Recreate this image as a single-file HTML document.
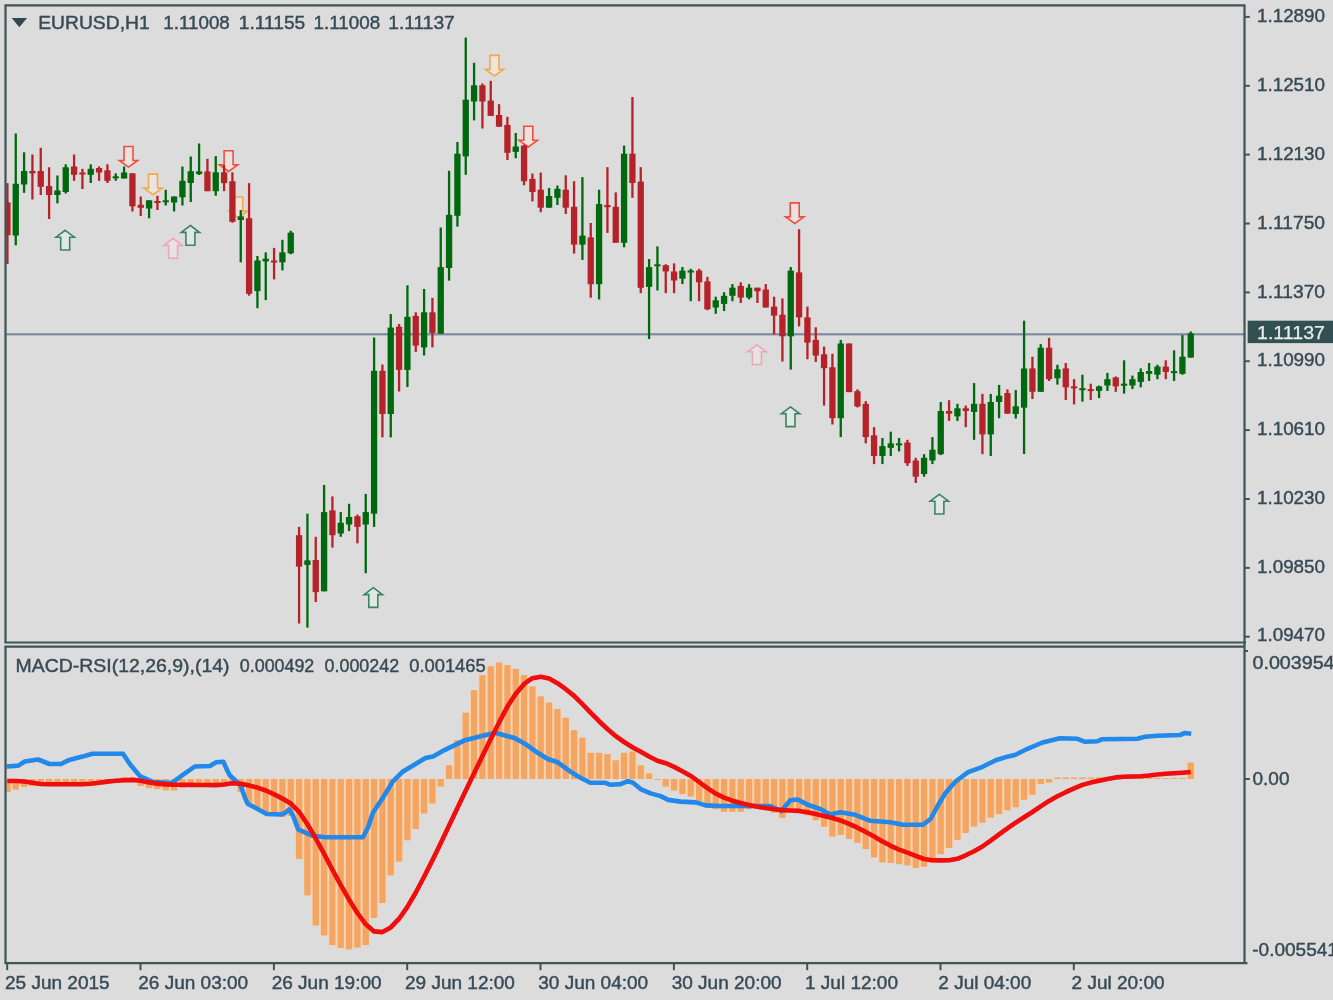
<!DOCTYPE html>
<html lang="en"><head><meta charset="utf-8"><title>EURUSD,H1</title>
<style>html,body{margin:0;padding:0;background:#dcdcdc;}body{width:1333px;height:1000px;overflow:hidden;}svg{display:block;}text{font-family:"Liberation Sans",sans-serif;font-size:19px;fill:#384b55;stroke:#384b55;stroke-width:0.45px;}</style>
</head><body>
<svg width="1333" height="1000" viewBox="0 0 1333 1000">
<defs><filter id="b" x="-2%" y="-2%" width="104%" height="104%"><feGaussianBlur stdDeviation="0.6"/></filter><clipPath id="c"><rect x="5.5" y="5" width="1239" height="958"/></clipPath></defs>
<rect width="1333" height="1000" fill="#dcdcdc"/>
<g filter="url(#b)">
<rect x="5.5" y="333.2" width="1240" height="2.2" fill="#7f8aa0"/>
<g id="arrows" stroke-width="1.6" stroke-linejoin="miter" fill-opacity="0.5">
<path d="M65.2 230.3 L74.4 237.2 L69.7 237.2 L69.7 250.0 L60.7 250.0 L60.7 237.2 L56.0 237.2 Z" fill="#e4f4ea" stroke="#3c8263"/>
<path d="M124.0 146.5 L133.0 146.5 L133.0 160.5 L137.7 160.5 L128.5 167.1 L119.3 160.5 L124.0 160.5 Z" fill="#fbe6e4" stroke="#ee503e"/>
<path d="M148.5 174.1 L157.5 174.1 L157.5 188.1 L162.2 188.1 L153.0 194.7 L143.8 188.1 L148.5 188.1 Z" fill="#faeedd" stroke="#f3a84e"/>
<path d="M173.1 238.5 L182.3 245.4 L177.6 245.4 L177.6 258.2 L168.6 258.2 L168.6 245.4 L163.9 245.4 Z" fill="#f6e8ec" stroke="#eba8ba"/>
<path d="M190.4 225.5 L199.6 232.4 L194.9 232.4 L194.9 245.2 L185.9 245.2 L185.9 232.4 L181.2 232.4 Z" fill="#e4f4ea" stroke="#3c8263"/>
<path d="M224.1 150.8 L233.1 150.8 L233.1 164.8 L237.8 164.8 L228.6 171.4 L219.4 164.8 L224.1 164.8 Z" fill="#fbe6e4" stroke="#ee503e"/>
<path d="M233.7 197.0 L242.7 197.0 L242.7 211.0 L247.4 211.0 L238.2 217.6 L229.0 211.0 L233.7 211.0 Z" fill="#faeedd" stroke="#f3a84e"/>
<path d="M373.3 587.7 L382.5 594.6 L377.8 594.6 L377.8 607.4 L368.8 607.4 L368.8 594.6 L364.1 594.6 Z" fill="#e4f4ea" stroke="#3c8263"/>
<path d="M490.0 55.4 L499.0 55.4 L499.0 69.4 L503.7 69.4 L494.5 76.0 L485.3 69.4 L490.0 69.4 Z" fill="#faeedd" stroke="#f3a84e"/>
<path d="M523.8 126.3 L532.8 126.3 L532.8 140.3 L537.5 140.3 L528.3 146.9 L519.1 140.3 L523.8 140.3 Z" fill="#fbe6e4" stroke="#ee503e"/>
<path d="M790.2 202.9 L799.2 202.9 L799.2 216.9 L804.0 216.9 L794.8 223.5 L785.5 216.9 L790.2 216.9 Z" fill="#fbe6e4" stroke="#ee503e"/>
<path d="M756.9 344.8 L766.1 351.7 L761.4 351.7 L761.4 364.5 L752.4 364.5 L752.4 351.7 L747.7 351.7 Z" fill="#f6e8ec" stroke="#eba8ba"/>
<path d="M790.5 406.9 L799.7 413.8 L795.0 413.8 L795.0 426.6 L786.0 426.6 L786.0 413.8 L781.3 413.8 Z" fill="#e4f4ea" stroke="#3c8263"/>
<path d="M939.4 494.3 L948.6 501.2 L943.9 501.2 L943.9 514.0 L934.9 514.0 L934.9 501.2 L930.2 501.2 Z" fill="#e4f4ea" stroke="#3c8263"/>
</g>
<g id="candles" clip-path="url(#c)">
<rect x="6.27" y="183.2" width="2.3" height="80.8" fill="#b62229"/>
<rect x="4.27" y="202.4" width="6.3" height="32.8" fill="#b62229"/>
<rect x="14.60" y="133.5" width="2.3" height="111.8" fill="#05680f"/>
<rect x="12.60" y="183.8" width="6.3" height="51.7" fill="#05680f"/>
<rect x="22.94" y="152.3" width="2.3" height="40.5" fill="#05680f"/>
<rect x="20.94" y="171.0" width="6.3" height="13.5" fill="#05680f"/>
<rect x="31.27" y="154.5" width="2.3" height="45.0" fill="#b62229"/>
<rect x="29.27" y="171.0" width="6.3" height="2.3" fill="#b62229"/>
<rect x="39.60" y="147.8" width="2.3" height="47.2" fill="#b62229"/>
<rect x="37.60" y="171.0" width="6.3" height="15.8" fill="#b62229"/>
<rect x="47.94" y="167.3" width="2.3" height="51.7" fill="#b62229"/>
<rect x="45.94" y="186.0" width="6.3" height="9.0" fill="#b62229"/>
<rect x="56.27" y="175.5" width="2.3" height="27.8" fill="#05680f"/>
<rect x="54.27" y="190.5" width="6.3" height="4.5" fill="#05680f"/>
<rect x="64.60" y="164.3" width="2.3" height="29.2" fill="#05680f"/>
<rect x="62.60" y="167.3" width="6.3" height="24.7" fill="#05680f"/>
<rect x="72.94" y="154.5" width="2.3" height="26.3" fill="#b62229"/>
<rect x="70.94" y="166.5" width="6.3" height="8.3" fill="#b62229"/>
<rect x="81.27" y="168.8" width="2.3" height="20.2" fill="#b62229"/>
<rect x="79.27" y="172.5" width="6.3" height="2.0" fill="#b62229"/>
<rect x="89.60" y="164.3" width="2.3" height="18.7" fill="#05680f"/>
<rect x="87.60" y="168.8" width="6.3" height="6.0" fill="#05680f"/>
<rect x="97.94" y="166.5" width="2.3" height="14.3" fill="#b62229"/>
<rect x="95.94" y="168.0" width="6.3" height="4.5" fill="#b62229"/>
<rect x="106.27" y="164.3" width="2.3" height="18.7" fill="#b62229"/>
<rect x="104.27" y="170.3" width="6.3" height="10.5" fill="#b62229"/>
<rect x="114.60" y="173.3" width="2.3" height="7.5" fill="#05680f"/>
<rect x="112.60" y="176.3" width="6.3" height="2.0" fill="#05680f"/>
<rect x="122.94" y="166.5" width="2.3" height="12.0" fill="#05680f"/>
<rect x="120.94" y="172.5" width="6.3" height="6.0" fill="#05680f"/>
<rect x="131.27" y="173.3" width="2.3" height="38.2" fill="#b62229"/>
<rect x="129.27" y="173.3" width="6.3" height="33.0" fill="#b62229"/>
<rect x="139.60" y="196.5" width="2.3" height="19.5" fill="#b62229"/>
<rect x="137.60" y="204.8" width="6.3" height="3.0" fill="#b62229"/>
<rect x="147.94" y="200.3" width="2.3" height="18.0" fill="#05680f"/>
<rect x="145.94" y="200.3" width="6.3" height="8.2" fill="#05680f"/>
<rect x="156.27" y="195.8" width="2.3" height="14.2" fill="#b62229"/>
<rect x="154.27" y="201.0" width="6.3" height="2.0" fill="#b62229"/>
<rect x="164.60" y="189.8" width="2.3" height="15.7" fill="#05680f"/>
<rect x="162.60" y="200.3" width="6.3" height="2.0" fill="#05680f"/>
<rect x="172.94" y="196.5" width="2.3" height="15.0" fill="#05680f"/>
<rect x="170.94" y="196.5" width="6.3" height="6.0" fill="#05680f"/>
<rect x="181.27" y="166.5" width="2.3" height="39.0" fill="#05680f"/>
<rect x="179.27" y="180.8" width="6.3" height="16.5" fill="#05680f"/>
<rect x="189.60" y="156.5" width="2.3" height="45.5" fill="#05680f"/>
<rect x="187.60" y="171.2" width="6.3" height="11.8" fill="#05680f"/>
<rect x="197.94" y="143.5" width="2.3" height="31.5" fill="#05680f"/>
<rect x="195.94" y="171.4" width="6.3" height="2.7" fill="#05680f"/>
<rect x="206.27" y="158.8" width="2.3" height="32.4" fill="#b62229"/>
<rect x="204.27" y="171.4" width="6.3" height="19.8" fill="#b62229"/>
<rect x="214.60" y="156.1" width="2.3" height="39.6" fill="#05680f"/>
<rect x="212.60" y="172.3" width="6.3" height="18.9" fill="#05680f"/>
<rect x="222.94" y="165.1" width="2.3" height="26.1" fill="#b62229"/>
<rect x="220.94" y="172.3" width="6.3" height="10.8" fill="#b62229"/>
<rect x="231.27" y="172.3" width="2.3" height="50.4" fill="#b62229"/>
<rect x="229.27" y="181.3" width="6.3" height="40.5" fill="#b62229"/>
<rect x="239.60" y="210.1" width="2.3" height="52.2" fill="#05680f"/>
<rect x="237.60" y="216.4" width="6.3" height="3.6" fill="#05680f"/>
<rect x="247.94" y="183.1" width="2.3" height="112.5" fill="#b62229"/>
<rect x="245.94" y="218.2" width="6.3" height="75.6" fill="#b62229"/>
<rect x="256.27" y="256.0" width="2.3" height="52.2" fill="#05680f"/>
<rect x="254.27" y="260.5" width="6.3" height="30.6" fill="#05680f"/>
<rect x="264.60" y="252.4" width="2.3" height="47.7" fill="#05680f"/>
<rect x="262.60" y="258.7" width="6.3" height="2.7" fill="#05680f"/>
<rect x="272.94" y="247.9" width="2.3" height="31.5" fill="#b62229"/>
<rect x="270.94" y="260.5" width="6.3" height="2.0" fill="#b62229"/>
<rect x="281.27" y="239.8" width="2.3" height="30.6" fill="#05680f"/>
<rect x="279.27" y="252.4" width="6.3" height="9.9" fill="#05680f"/>
<rect x="289.60" y="230.8" width="2.3" height="23.4" fill="#05680f"/>
<rect x="287.60" y="232.6" width="6.3" height="20.7" fill="#05680f"/>
<rect x="297.94" y="526.9" width="2.3" height="96.6" fill="#b62229"/>
<rect x="295.94" y="535.2" width="6.3" height="31.4" fill="#b62229"/>
<rect x="306.27" y="513.7" width="2.3" height="113.9" fill="#05680f"/>
<rect x="304.27" y="560.4" width="6.3" height="4.5" fill="#05680f"/>
<rect x="314.60" y="536.8" width="2.3" height="65.2" fill="#b62229"/>
<rect x="312.60" y="560.0" width="6.3" height="32.1" fill="#b62229"/>
<rect x="322.94" y="484.9" width="2.3" height="106.4" fill="#05680f"/>
<rect x="320.94" y="512.1" width="6.3" height="79.2" fill="#05680f"/>
<rect x="331.27" y="496.4" width="2.3" height="51.2" fill="#b62229"/>
<rect x="329.27" y="510.4" width="6.3" height="24.8" fill="#b62229"/>
<rect x="339.60" y="512.1" width="2.3" height="24.7" fill="#05680f"/>
<rect x="337.60" y="522.8" width="6.3" height="10.7" fill="#05680f"/>
<rect x="347.94" y="503.8" width="2.3" height="27.3" fill="#05680f"/>
<rect x="345.94" y="517.0" width="6.3" height="7.5" fill="#05680f"/>
<rect x="356.27" y="514.6" width="2.3" height="28.8" fill="#b62229"/>
<rect x="354.27" y="516.2" width="6.3" height="10.7" fill="#b62229"/>
<rect x="364.60" y="493.9" width="2.3" height="79.3" fill="#05680f"/>
<rect x="362.60" y="512.1" width="6.3" height="12.4" fill="#05680f"/>
<rect x="372.94" y="337.5" width="2.3" height="189.4" fill="#05680f"/>
<rect x="370.94" y="370.8" width="6.3" height="142.9" fill="#05680f"/>
<rect x="381.27" y="364.5" width="2.3" height="72.9" fill="#b62229"/>
<rect x="379.27" y="370.8" width="6.3" height="43.2" fill="#b62229"/>
<rect x="389.60" y="314.1" width="2.3" height="123.3" fill="#05680f"/>
<rect x="387.60" y="327.6" width="6.3" height="86.4" fill="#05680f"/>
<rect x="397.94" y="324.0" width="2.3" height="67.5" fill="#b62229"/>
<rect x="395.94" y="326.7" width="6.3" height="43.2" fill="#b62229"/>
<rect x="406.27" y="285.3" width="2.3" height="101.7" fill="#05680f"/>
<rect x="404.27" y="316.8" width="6.3" height="53.1" fill="#05680f"/>
<rect x="414.60" y="312.3" width="2.3" height="39.6" fill="#b62229"/>
<rect x="412.60" y="315.9" width="6.3" height="29.7" fill="#b62229"/>
<rect x="422.94" y="288.9" width="2.3" height="66.6" fill="#05680f"/>
<rect x="420.94" y="312.3" width="6.3" height="35.1" fill="#05680f"/>
<rect x="431.27" y="297.9" width="2.3" height="49.5" fill="#b62229"/>
<rect x="429.27" y="312.3" width="6.3" height="20.7" fill="#b62229"/>
<rect x="439.60" y="227.5" width="2.3" height="106.2" fill="#05680f"/>
<rect x="437.60" y="267.1" width="6.3" height="66.6" fill="#05680f"/>
<rect x="447.93" y="170.8" width="2.3" height="109.8" fill="#05680f"/>
<rect x="445.93" y="214.9" width="6.3" height="53.1" fill="#05680f"/>
<rect x="456.27" y="142.0" width="2.3" height="84.6" fill="#05680f"/>
<rect x="454.27" y="153.7" width="6.3" height="62.1" fill="#05680f"/>
<rect x="464.60" y="37.6" width="2.3" height="137.2" fill="#05680f"/>
<rect x="462.60" y="99.7" width="6.3" height="56.7" fill="#05680f"/>
<rect x="472.93" y="62.8" width="2.3" height="57.6" fill="#05680f"/>
<rect x="470.93" y="85.3" width="6.3" height="16.2" fill="#05680f"/>
<rect x="481.27" y="83.5" width="2.3" height="45.0" fill="#b62229"/>
<rect x="479.27" y="85.3" width="6.3" height="16.2" fill="#b62229"/>
<rect x="489.60" y="80.8" width="2.3" height="35.1" fill="#b62229"/>
<rect x="487.60" y="100.6" width="6.3" height="15.3" fill="#b62229"/>
<rect x="497.93" y="104.2" width="2.3" height="22.5" fill="#b62229"/>
<rect x="495.93" y="115.0" width="6.3" height="11.7" fill="#b62229"/>
<rect x="506.27" y="116.8" width="2.3" height="43.2" fill="#b62229"/>
<rect x="504.27" y="124.9" width="6.3" height="27.9" fill="#b62229"/>
<rect x="514.60" y="133.0" width="2.3" height="25.2" fill="#05680f"/>
<rect x="512.60" y="146.5" width="6.3" height="5.4" fill="#05680f"/>
<rect x="522.93" y="144.7" width="2.3" height="40.5" fill="#b62229"/>
<rect x="520.93" y="145.6" width="6.3" height="35.6" fill="#b62229"/>
<rect x="531.27" y="173.5" width="2.3" height="27.9" fill="#b62229"/>
<rect x="529.27" y="178.9" width="6.3" height="13.1" fill="#b62229"/>
<rect x="539.60" y="172.6" width="2.3" height="39.6" fill="#b62229"/>
<rect x="537.60" y="189.7" width="6.3" height="18.0" fill="#b62229"/>
<rect x="547.93" y="187.9" width="2.3" height="19.8" fill="#05680f"/>
<rect x="545.93" y="196.0" width="6.3" height="11.7" fill="#05680f"/>
<rect x="556.27" y="185.6" width="2.3" height="19.4" fill="#05680f"/>
<rect x="554.27" y="188.8" width="6.3" height="9.0" fill="#05680f"/>
<rect x="564.60" y="175.3" width="2.3" height="38.7" fill="#b62229"/>
<rect x="562.60" y="189.7" width="6.3" height="18.0" fill="#b62229"/>
<rect x="572.93" y="181.2" width="2.3" height="72.4" fill="#b62229"/>
<rect x="570.93" y="206.8" width="6.3" height="37.8" fill="#b62229"/>
<rect x="581.27" y="177.1" width="2.3" height="82.8" fill="#05680f"/>
<rect x="579.27" y="235.6" width="6.3" height="9.0" fill="#05680f"/>
<rect x="589.60" y="223.0" width="2.3" height="74.7" fill="#b62229"/>
<rect x="587.60" y="237.4" width="6.3" height="46.8" fill="#b62229"/>
<rect x="597.93" y="189.7" width="2.3" height="109.8" fill="#05680f"/>
<rect x="595.93" y="204.1" width="6.3" height="80.1" fill="#05680f"/>
<rect x="606.27" y="167.2" width="2.3" height="65.7" fill="#b62229"/>
<rect x="604.27" y="205.0" width="6.3" height="2.2" fill="#b62229"/>
<rect x="614.60" y="192.4" width="2.3" height="50.4" fill="#b62229"/>
<rect x="612.60" y="206.8" width="6.3" height="36.0" fill="#b62229"/>
<rect x="622.93" y="145.6" width="2.3" height="101.7" fill="#05680f"/>
<rect x="620.93" y="153.7" width="6.3" height="89.1" fill="#05680f"/>
<rect x="631.27" y="97.0" width="2.3" height="100.8" fill="#b62229"/>
<rect x="629.27" y="153.7" width="6.3" height="29.3" fill="#b62229"/>
<rect x="639.60" y="167.2" width="2.3" height="126.0" fill="#b62229"/>
<rect x="637.60" y="181.6" width="6.3" height="106.2" fill="#b62229"/>
<rect x="647.93" y="259.0" width="2.3" height="80.0" fill="#05680f"/>
<rect x="645.93" y="267.1" width="6.3" height="19.8" fill="#05680f"/>
<rect x="656.27" y="246.4" width="2.3" height="44.1" fill="#05680f"/>
<rect x="654.27" y="264.3" width="6.3" height="2.0" fill="#05680f"/>
<rect x="664.60" y="264.3" width="2.3" height="28.8" fill="#b62229"/>
<rect x="662.60" y="265.2" width="6.3" height="6.3" fill="#b62229"/>
<rect x="672.93" y="263.4" width="2.3" height="29.7" fill="#b62229"/>
<rect x="670.93" y="271.5" width="6.3" height="9.0" fill="#b62229"/>
<rect x="681.27" y="267.0" width="2.3" height="17.1" fill="#05680f"/>
<rect x="679.27" y="270.6" width="6.3" height="8.1" fill="#05680f"/>
<rect x="689.60" y="268.8" width="2.3" height="32.4" fill="#05680f"/>
<rect x="687.60" y="270.5" width="6.3" height="2.0" fill="#05680f"/>
<rect x="697.93" y="268.8" width="2.3" height="32.4" fill="#b62229"/>
<rect x="695.93" y="270.6" width="6.3" height="11.7" fill="#b62229"/>
<rect x="706.27" y="276.9" width="2.3" height="33.3" fill="#b62229"/>
<rect x="704.27" y="281.4" width="6.3" height="27.9" fill="#b62229"/>
<rect x="714.60" y="296.7" width="2.3" height="17.1" fill="#05680f"/>
<rect x="712.60" y="300.3" width="6.3" height="7.2" fill="#05680f"/>
<rect x="722.93" y="292.2" width="2.3" height="18.9" fill="#05680f"/>
<rect x="720.93" y="295.8" width="6.3" height="8.1" fill="#05680f"/>
<rect x="731.27" y="284.1" width="2.3" height="17.1" fill="#05680f"/>
<rect x="729.27" y="287.7" width="6.3" height="8.1" fill="#05680f"/>
<rect x="739.60" y="282.3" width="2.3" height="20.7" fill="#b62229"/>
<rect x="737.60" y="285.9" width="6.3" height="11.7" fill="#b62229"/>
<rect x="747.93" y="284.1" width="2.3" height="15.3" fill="#05680f"/>
<rect x="745.93" y="287.7" width="6.3" height="9.9" fill="#05680f"/>
<rect x="756.27" y="287.7" width="2.3" height="15.3" fill="#b62229"/>
<rect x="754.27" y="287.7" width="6.3" height="3.6" fill="#b62229"/>
<rect x="764.60" y="284.1" width="2.3" height="23.4" fill="#b62229"/>
<rect x="762.60" y="289.5" width="6.3" height="18.0" fill="#b62229"/>
<rect x="772.93" y="296.7" width="2.3" height="37.8" fill="#b62229"/>
<rect x="770.93" y="306.6" width="6.3" height="9.0" fill="#b62229"/>
<rect x="781.27" y="298.5" width="2.3" height="63.0" fill="#b62229"/>
<rect x="779.27" y="314.7" width="6.3" height="21.6" fill="#b62229"/>
<rect x="789.60" y="267.0" width="2.3" height="102.6" fill="#05680f"/>
<rect x="787.60" y="270.6" width="6.3" height="65.7" fill="#05680f"/>
<rect x="797.93" y="229.2" width="2.3" height="97.2" fill="#b62229"/>
<rect x="795.93" y="272.4" width="6.3" height="45.0" fill="#b62229"/>
<rect x="806.27" y="306.6" width="2.3" height="52.7" fill="#b62229"/>
<rect x="804.27" y="317.4" width="6.3" height="25.2" fill="#b62229"/>
<rect x="814.60" y="327.3" width="2.3" height="34.7" fill="#b62229"/>
<rect x="812.60" y="339.9" width="6.3" height="15.7" fill="#b62229"/>
<rect x="822.93" y="346.6" width="2.3" height="59.0" fill="#b62229"/>
<rect x="820.93" y="354.3" width="6.3" height="13.9" fill="#b62229"/>
<rect x="831.27" y="353.8" width="2.3" height="70.7" fill="#b62229"/>
<rect x="829.27" y="367.3" width="6.3" height="50.9" fill="#b62229"/>
<rect x="839.60" y="339.9" width="2.3" height="97.2" fill="#05680f"/>
<rect x="837.60" y="343.5" width="6.3" height="74.7" fill="#05680f"/>
<rect x="847.93" y="343.5" width="2.3" height="48.6" fill="#b62229"/>
<rect x="845.93" y="343.5" width="6.3" height="48.6" fill="#b62229"/>
<rect x="856.27" y="389.4" width="2.3" height="18.0" fill="#b62229"/>
<rect x="854.27" y="391.2" width="6.3" height="15.3" fill="#b62229"/>
<rect x="864.60" y="401.1" width="2.3" height="42.3" fill="#b62229"/>
<rect x="862.60" y="403.8" width="6.3" height="33.3" fill="#b62229"/>
<rect x="872.93" y="427.2" width="2.3" height="36.9" fill="#b62229"/>
<rect x="870.93" y="435.3" width="6.3" height="20.7" fill="#b62229"/>
<rect x="881.27" y="438.0" width="2.3" height="26.1" fill="#05680f"/>
<rect x="879.27" y="446.1" width="6.3" height="9.9" fill="#05680f"/>
<rect x="889.60" y="431.7" width="2.3" height="24.3" fill="#05680f"/>
<rect x="887.60" y="443.4" width="6.3" height="4.5" fill="#05680f"/>
<rect x="897.93" y="438.0" width="2.3" height="13.5" fill="#05680f"/>
<rect x="895.93" y="443.4" width="6.3" height="2.0" fill="#05680f"/>
<rect x="906.27" y="439.8" width="2.3" height="26.1" fill="#b62229"/>
<rect x="904.27" y="442.5" width="6.3" height="20.7" fill="#b62229"/>
<rect x="914.60" y="457.8" width="2.3" height="25.2" fill="#b62229"/>
<rect x="912.60" y="460.5" width="6.3" height="16.2" fill="#b62229"/>
<rect x="922.93" y="454.2" width="2.3" height="22.5" fill="#05680f"/>
<rect x="920.93" y="457.8" width="6.3" height="16.2" fill="#05680f"/>
<rect x="931.27" y="437.1" width="2.3" height="27.0" fill="#05680f"/>
<rect x="929.27" y="449.7" width="6.3" height="10.8" fill="#05680f"/>
<rect x="939.60" y="402.0" width="2.3" height="53.1" fill="#05680f"/>
<rect x="937.60" y="411.0" width="6.3" height="43.2" fill="#05680f"/>
<rect x="947.93" y="400.2" width="2.3" height="20.7" fill="#b62229"/>
<rect x="945.93" y="411.0" width="6.3" height="2.7" fill="#b62229"/>
<rect x="956.27" y="403.8" width="2.3" height="17.1" fill="#05680f"/>
<rect x="954.27" y="408.3" width="6.3" height="8.1" fill="#05680f"/>
<rect x="964.60" y="405.6" width="2.3" height="21.6" fill="#b62229"/>
<rect x="962.60" y="408.3" width="6.3" height="2.7" fill="#b62229"/>
<rect x="972.93" y="383.1" width="2.3" height="56.7" fill="#05680f"/>
<rect x="970.93" y="403.8" width="6.3" height="8.1" fill="#05680f"/>
<rect x="981.27" y="393.9" width="2.3" height="60.3" fill="#b62229"/>
<rect x="979.27" y="403.8" width="6.3" height="30.6" fill="#b62229"/>
<rect x="989.60" y="393.9" width="2.3" height="62.1" fill="#05680f"/>
<rect x="987.60" y="402.0" width="6.3" height="32.4" fill="#05680f"/>
<rect x="997.93" y="384.9" width="2.3" height="33.3" fill="#05680f"/>
<rect x="995.93" y="395.7" width="6.3" height="6.3" fill="#05680f"/>
<rect x="1006.27" y="389.4" width="2.3" height="24.3" fill="#b62229"/>
<rect x="1004.27" y="393.0" width="6.3" height="20.7" fill="#b62229"/>
<rect x="1014.60" y="390.0" width="2.3" height="28.5" fill="#05680f"/>
<rect x="1012.60" y="406.3" width="6.3" height="7.7" fill="#05680f"/>
<rect x="1022.93" y="320.7" width="2.3" height="133.3" fill="#05680f"/>
<rect x="1020.93" y="368.5" width="6.3" height="39.2" fill="#05680f"/>
<rect x="1031.27" y="356.7" width="2.3" height="42.3" fill="#b62229"/>
<rect x="1029.27" y="368.4" width="6.3" height="23.4" fill="#b62229"/>
<rect x="1039.60" y="344.1" width="2.3" height="47.7" fill="#05680f"/>
<rect x="1037.60" y="347.7" width="6.3" height="44.1" fill="#05680f"/>
<rect x="1047.93" y="337.8" width="2.3" height="43.2" fill="#b62229"/>
<rect x="1045.93" y="347.7" width="6.3" height="31.5" fill="#b62229"/>
<rect x="1056.27" y="364.8" width="2.3" height="19.8" fill="#05680f"/>
<rect x="1054.27" y="369.3" width="6.3" height="9.0" fill="#05680f"/>
<rect x="1064.60" y="363.0" width="2.3" height="36.9" fill="#b62229"/>
<rect x="1062.60" y="368.4" width="6.3" height="18.9" fill="#b62229"/>
<rect x="1072.93" y="379.2" width="2.3" height="25.2" fill="#b62229"/>
<rect x="1070.93" y="386.4" width="6.3" height="2.0" fill="#b62229"/>
<rect x="1081.27" y="374.7" width="2.3" height="27.0" fill="#05680f"/>
<rect x="1079.27" y="388.2" width="6.3" height="2.0" fill="#05680f"/>
<rect x="1089.60" y="383.7" width="2.3" height="16.2" fill="#b62229"/>
<rect x="1087.60" y="389.1" width="6.3" height="2.0" fill="#b62229"/>
<rect x="1097.93" y="385.5" width="2.3" height="12.6" fill="#05680f"/>
<rect x="1095.93" y="386.4" width="6.3" height="4.5" fill="#05680f"/>
<rect x="1106.27" y="372.9" width="2.3" height="18.0" fill="#05680f"/>
<rect x="1104.27" y="379.2" width="6.3" height="6.3" fill="#05680f"/>
<rect x="1114.60" y="376.5" width="2.3" height="15.3" fill="#b62229"/>
<rect x="1112.60" y="377.4" width="6.3" height="9.0" fill="#b62229"/>
<rect x="1122.93" y="360.3" width="2.3" height="33.3" fill="#05680f"/>
<rect x="1120.93" y="383.7" width="6.3" height="2.0" fill="#05680f"/>
<rect x="1131.27" y="375.6" width="2.3" height="13.5" fill="#05680f"/>
<rect x="1129.27" y="379.2" width="6.3" height="6.3" fill="#05680f"/>
<rect x="1139.60" y="368.4" width="2.3" height="18.9" fill="#05680f"/>
<rect x="1137.60" y="372.0" width="6.3" height="9.9" fill="#05680f"/>
<rect x="1147.93" y="363.0" width="2.3" height="18.0" fill="#05680f"/>
<rect x="1145.93" y="371.1" width="6.3" height="2.7" fill="#05680f"/>
<rect x="1156.27" y="364.8" width="2.3" height="14.4" fill="#05680f"/>
<rect x="1154.27" y="366.6" width="6.3" height="8.1" fill="#05680f"/>
<rect x="1164.60" y="360.3" width="2.3" height="18.9" fill="#b62229"/>
<rect x="1162.60" y="366.6" width="6.3" height="5.4" fill="#b62229"/>
<rect x="1172.93" y="350.4" width="2.3" height="30.6" fill="#05680f"/>
<rect x="1170.93" y="371.1" width="6.3" height="2.0" fill="#05680f"/>
<rect x="1181.27" y="335.1" width="2.3" height="39.6" fill="#05680f"/>
<rect x="1179.27" y="356.7" width="6.3" height="17.1" fill="#05680f"/>
<rect x="1189.60" y="331.5" width="2.3" height="26.1" fill="#05680f"/>
<rect x="1187.60" y="333.3" width="6.3" height="24.3" fill="#05680f"/>
</g>
<g id="histbg" fill="#f7d2b0" clip-path="url(#c)">
<rect x="3.22" y="779.4" width="8.4" height="12.2"/>
<rect x="11.55" y="779.4" width="8.4" height="9.8"/>
<rect x="19.89" y="779.4" width="8.4" height="7.2"/>
<rect x="28.22" y="779.4" width="8.4" height="6.2"/>
<rect x="36.55" y="779.4" width="8.4" height="3.2"/>
<rect x="44.89" y="779.4" width="8.4" height="3.2"/>
<rect x="53.22" y="779.4" width="8.4" height="3.2"/>
<rect x="61.55" y="779.4" width="8.4" height="3.2"/>
<rect x="69.89" y="779.4" width="8.4" height="3.2"/>
<rect x="78.22" y="779.4" width="8.4" height="3.2"/>
<rect x="86.55" y="779.4" width="8.4" height="3.2"/>
<rect x="94.89" y="779.4" width="8.4" height="3.2"/>
<rect x="103.22" y="779.4" width="8.4" height="3.2"/>
<rect x="111.55" y="779.4" width="8.4" height="3.2"/>
<rect x="119.89" y="777.4" width="8.4" height="1.2"/>
<rect x="128.22" y="777.9" width="8.4" height="0.7"/>
<rect x="136.55" y="779.4" width="8.4" height="6.2"/>
<rect x="144.89" y="779.4" width="8.4" height="8.2"/>
<rect x="153.22" y="779.4" width="8.4" height="9.2"/>
<rect x="161.55" y="779.4" width="8.4" height="10.6"/>
<rect x="169.89" y="779.4" width="8.4" height="10.6"/>
<rect x="178.22" y="779.4" width="8.4" height="8.2"/>
<rect x="186.55" y="779.4" width="8.4" height="3.2"/>
<rect x="194.89" y="779.4" width="8.4" height="3.2"/>
<rect x="203.22" y="779.4" width="8.4" height="3.2"/>
<rect x="211.55" y="779.4" width="8.4" height="3.2"/>
<rect x="219.89" y="779.4" width="8.4" height="3.2"/>
<rect x="228.22" y="779.4" width="8.4" height="4.2"/>
<rect x="236.55" y="779.4" width="8.4" height="12.2"/>
<rect x="244.89" y="779.4" width="8.4" height="23.2"/>
<rect x="253.22" y="779.4" width="8.4" height="30.2"/>
<rect x="261.55" y="779.4" width="8.4" height="34.2"/>
<rect x="269.89" y="779.4" width="8.4" height="35.7"/>
<rect x="278.22" y="779.4" width="8.4" height="37.2"/>
<rect x="286.55" y="779.4" width="8.4" height="36.2"/>
<rect x="294.89" y="779.4" width="8.4" height="79.3"/>
<rect x="303.22" y="779.4" width="8.4" height="115.6"/>
<rect x="311.55" y="779.4" width="8.4" height="145.7"/>
<rect x="319.89" y="779.4" width="8.4" height="155.7"/>
<rect x="328.22" y="779.4" width="8.4" height="165.3"/>
<rect x="336.55" y="779.4" width="8.4" height="168.3"/>
<rect x="344.89" y="779.4" width="8.4" height="169.5"/>
<rect x="353.22" y="779.4" width="8.4" height="167.8"/>
<rect x="361.55" y="779.4" width="8.4" height="165.3"/>
<rect x="369.89" y="779.4" width="8.4" height="138.2"/>
<rect x="378.22" y="779.4" width="8.4" height="123.2"/>
<rect x="386.55" y="779.4" width="8.4" height="95.6"/>
<rect x="394.89" y="779.4" width="8.4" height="81.8"/>
<rect x="403.22" y="779.4" width="8.4" height="60.5"/>
<rect x="411.55" y="779.4" width="8.4" height="49.2"/>
<rect x="419.88" y="779.4" width="8.4" height="33.7"/>
<rect x="428.22" y="779.4" width="8.4" height="23.7"/>
<rect x="436.55" y="779.4" width="8.4" height="6.7"/>
<rect x="444.88" y="765.6" width="8.4" height="13.0"/>
<rect x="453.22" y="740.5" width="8.4" height="38.1"/>
<rect x="461.55" y="713.1" width="8.4" height="65.5"/>
<rect x="469.88" y="690.5" width="8.4" height="88.1"/>
<rect x="478.22" y="675.5" width="8.4" height="103.1"/>
<rect x="486.55" y="666.7" width="8.4" height="111.9"/>
<rect x="494.88" y="662.9" width="8.4" height="115.7"/>
<rect x="503.22" y="665.5" width="8.4" height="113.1"/>
<rect x="511.55" y="669.2" width="8.4" height="109.4"/>
<rect x="519.88" y="675.5" width="8.4" height="103.1"/>
<rect x="528.22" y="686.8" width="8.4" height="91.8"/>
<rect x="536.55" y="696.8" width="8.4" height="81.8"/>
<rect x="544.88" y="703.0" width="8.4" height="75.6"/>
<rect x="553.22" y="709.3" width="8.4" height="69.3"/>
<rect x="561.55" y="718.1" width="8.4" height="60.5"/>
<rect x="569.88" y="730.6" width="8.4" height="48.0"/>
<rect x="578.22" y="738.1" width="8.4" height="40.5"/>
<rect x="586.55" y="753.2" width="8.4" height="25.4"/>
<rect x="594.88" y="753.2" width="8.4" height="25.4"/>
<rect x="603.22" y="754.4" width="8.4" height="24.2"/>
<rect x="611.55" y="760.7" width="8.4" height="17.9"/>
<rect x="619.88" y="753.2" width="8.4" height="25.4"/>
<rect x="628.22" y="751.9" width="8.4" height="26.7"/>
<rect x="636.55" y="765.7" width="8.4" height="12.9"/>
<rect x="644.88" y="773.7" width="8.4" height="4.9"/>
<rect x="661.55" y="779.4" width="8.4" height="6.8"/>
<rect x="669.88" y="779.4" width="8.4" height="10.6"/>
<rect x="678.22" y="779.4" width="8.4" height="14.3"/>
<rect x="686.55" y="779.4" width="8.4" height="16.8"/>
<rect x="694.88" y="779.4" width="8.4" height="21.8"/>
<rect x="703.22" y="779.4" width="8.4" height="28.1"/>
<rect x="711.55" y="779.4" width="8.4" height="29.4"/>
<rect x="719.88" y="779.4" width="8.4" height="31.9"/>
<rect x="728.22" y="779.4" width="8.4" height="31.9"/>
<rect x="736.55" y="779.4" width="8.4" height="31.9"/>
<rect x="744.88" y="779.4" width="8.4" height="29.4"/>
<rect x="753.22" y="779.4" width="8.4" height="29.2"/>
<rect x="761.55" y="779.4" width="8.4" height="30.5"/>
<rect x="769.88" y="779.4" width="8.4" height="33.0"/>
<rect x="778.22" y="779.4" width="8.4" height="38.0"/>
<rect x="786.55" y="779.4" width="8.4" height="28.2"/>
<rect x="794.88" y="779.4" width="8.4" height="30.5"/>
<rect x="803.22" y="779.4" width="8.4" height="35.5"/>
<rect x="811.55" y="779.4" width="8.4" height="40.5"/>
<rect x="819.88" y="779.4" width="8.4" height="46.8"/>
<rect x="828.22" y="779.4" width="8.4" height="56.8"/>
<rect x="836.55" y="779.4" width="8.4" height="55.1"/>
<rect x="844.88" y="779.4" width="8.4" height="59.3"/>
<rect x="853.22" y="779.4" width="8.4" height="63.1"/>
<rect x="861.55" y="779.4" width="8.4" height="69.3"/>
<rect x="869.88" y="779.4" width="8.4" height="77.6"/>
<rect x="878.22" y="779.4" width="8.4" height="82.6"/>
<rect x="886.55" y="779.4" width="8.4" height="83.1"/>
<rect x="894.88" y="779.4" width="8.4" height="84.4"/>
<rect x="903.22" y="779.4" width="8.4" height="85.6"/>
<rect x="911.55" y="779.4" width="8.4" height="88.1"/>
<rect x="919.88" y="779.4" width="8.4" height="86.9"/>
<rect x="928.22" y="779.4" width="8.4" height="83.1"/>
<rect x="936.55" y="779.4" width="8.4" height="74.4"/>
<rect x="944.88" y="779.4" width="8.4" height="68.1"/>
<rect x="953.22" y="779.4" width="8.4" height="60.1"/>
<rect x="961.55" y="779.4" width="8.4" height="53.1"/>
<rect x="969.88" y="779.4" width="8.4" height="46.8"/>
<rect x="978.22" y="779.4" width="8.4" height="43.0"/>
<rect x="986.55" y="779.4" width="8.4" height="38.0"/>
<rect x="994.88" y="779.4" width="8.4" height="34.3"/>
<rect x="1003.22" y="779.4" width="8.4" height="30.5"/>
<rect x="1011.55" y="779.4" width="8.4" height="27.5"/>
<rect x="1019.88" y="779.4" width="8.4" height="20.0"/>
<rect x="1028.22" y="779.4" width="8.4" height="15.0"/>
<rect x="1036.55" y="779.4" width="8.4" height="4.2"/>
<rect x="1044.88" y="779.4" width="8.4" height="2.9"/>
<rect x="1053.22" y="777.9" width="8.4" height="0.7"/>
<rect x="1061.55" y="777.9" width="8.4" height="0.7"/>
<rect x="1069.88" y="777.9" width="8.4" height="0.7"/>
<rect x="1078.22" y="777.9" width="8.4" height="0.7"/>
<rect x="1086.55" y="777.9" width="8.4" height="0.7"/>
<rect x="1094.88" y="777.9" width="8.4" height="0.7"/>
<rect x="1103.22" y="777.9" width="8.4" height="0.7"/>
<rect x="1111.55" y="777.9" width="8.4" height="0.7"/>
<rect x="1186.55" y="762.9" width="8.4" height="15.7"/>
</g>
<g id="hist" fill="#f4a562" clip-path="url(#c)">
<rect x="4.32" y="779.0" width="6.2" height="13.0"/>
<rect x="12.65" y="779.0" width="6.2" height="10.6"/>
<rect x="20.99" y="779.0" width="6.2" height="8.0"/>
<rect x="29.32" y="779.0" width="6.2" height="7.0"/>
<rect x="37.65" y="779.0" width="6.2" height="4.0"/>
<rect x="45.99" y="779.0" width="6.2" height="4.0"/>
<rect x="54.32" y="779.0" width="6.2" height="4.0"/>
<rect x="62.65" y="779.0" width="6.2" height="4.0"/>
<rect x="70.99" y="779.0" width="6.2" height="4.0"/>
<rect x="79.32" y="779.0" width="6.2" height="4.0"/>
<rect x="87.65" y="779.0" width="6.2" height="4.0"/>
<rect x="95.99" y="779.0" width="6.2" height="4.0"/>
<rect x="104.32" y="779.0" width="6.2" height="4.0"/>
<rect x="112.65" y="779.0" width="6.2" height="4.0"/>
<rect x="120.99" y="777.0" width="6.2" height="2.0"/>
<rect x="129.32" y="777.5" width="6.2" height="1.5"/>
<rect x="137.65" y="779.0" width="6.2" height="7.0"/>
<rect x="145.99" y="779.0" width="6.2" height="9.0"/>
<rect x="154.32" y="779.0" width="6.2" height="10.0"/>
<rect x="162.65" y="779.0" width="6.2" height="11.4"/>
<rect x="170.99" y="779.0" width="6.2" height="11.4"/>
<rect x="179.32" y="779.0" width="6.2" height="9.0"/>
<rect x="187.65" y="779.0" width="6.2" height="4.0"/>
<rect x="195.99" y="779.0" width="6.2" height="4.0"/>
<rect x="204.32" y="779.0" width="6.2" height="4.0"/>
<rect x="212.65" y="779.0" width="6.2" height="4.0"/>
<rect x="220.99" y="779.0" width="6.2" height="4.0"/>
<rect x="229.32" y="779.0" width="6.2" height="5.0"/>
<rect x="237.65" y="779.0" width="6.2" height="13.0"/>
<rect x="245.99" y="779.0" width="6.2" height="24.0"/>
<rect x="254.32" y="779.0" width="6.2" height="31.0"/>
<rect x="262.65" y="779.0" width="6.2" height="35.0"/>
<rect x="270.99" y="779.0" width="6.2" height="36.5"/>
<rect x="279.32" y="779.0" width="6.2" height="38.0"/>
<rect x="287.65" y="779.0" width="6.2" height="37.0"/>
<rect x="295.99" y="779.0" width="6.2" height="80.1"/>
<rect x="304.32" y="779.0" width="6.2" height="116.4"/>
<rect x="312.65" y="779.0" width="6.2" height="146.5"/>
<rect x="320.99" y="779.0" width="6.2" height="156.5"/>
<rect x="329.32" y="779.0" width="6.2" height="166.1"/>
<rect x="337.65" y="779.0" width="6.2" height="169.1"/>
<rect x="345.99" y="779.0" width="6.2" height="170.3"/>
<rect x="354.32" y="779.0" width="6.2" height="168.6"/>
<rect x="362.65" y="779.0" width="6.2" height="166.1"/>
<rect x="370.99" y="779.0" width="6.2" height="139.0"/>
<rect x="379.32" y="779.0" width="6.2" height="124.0"/>
<rect x="387.65" y="779.0" width="6.2" height="96.4"/>
<rect x="395.99" y="779.0" width="6.2" height="82.6"/>
<rect x="404.32" y="779.0" width="6.2" height="61.3"/>
<rect x="412.65" y="779.0" width="6.2" height="50.0"/>
<rect x="420.98" y="779.0" width="6.2" height="34.5"/>
<rect x="429.32" y="779.0" width="6.2" height="24.5"/>
<rect x="437.65" y="779.0" width="6.2" height="7.5"/>
<rect x="445.98" y="765.2" width="6.2" height="13.8"/>
<rect x="454.32" y="740.1" width="6.2" height="38.9"/>
<rect x="462.65" y="712.7" width="6.2" height="66.3"/>
<rect x="470.98" y="690.1" width="6.2" height="88.9"/>
<rect x="479.32" y="675.1" width="6.2" height="103.9"/>
<rect x="487.65" y="666.3" width="6.2" height="112.7"/>
<rect x="495.98" y="662.5" width="6.2" height="116.5"/>
<rect x="504.32" y="665.1" width="6.2" height="113.9"/>
<rect x="512.65" y="668.8" width="6.2" height="110.2"/>
<rect x="520.98" y="675.1" width="6.2" height="103.9"/>
<rect x="529.32" y="686.4" width="6.2" height="92.6"/>
<rect x="537.65" y="696.4" width="6.2" height="82.6"/>
<rect x="545.98" y="702.6" width="6.2" height="76.4"/>
<rect x="554.32" y="708.9" width="6.2" height="70.1"/>
<rect x="562.65" y="717.7" width="6.2" height="61.3"/>
<rect x="570.98" y="730.2" width="6.2" height="48.8"/>
<rect x="579.32" y="737.7" width="6.2" height="41.3"/>
<rect x="587.65" y="752.8" width="6.2" height="26.2"/>
<rect x="595.98" y="752.8" width="6.2" height="26.2"/>
<rect x="604.32" y="754.0" width="6.2" height="25.0"/>
<rect x="612.65" y="760.3" width="6.2" height="18.7"/>
<rect x="620.98" y="752.8" width="6.2" height="26.2"/>
<rect x="629.32" y="751.5" width="6.2" height="27.5"/>
<rect x="637.65" y="765.3" width="6.2" height="13.7"/>
<rect x="645.98" y="773.3" width="6.2" height="5.7"/>
<rect x="654.32" y="779.0" width="6.2" height="1.0"/>
<rect x="662.65" y="779.0" width="6.2" height="7.6"/>
<rect x="670.98" y="779.0" width="6.2" height="11.4"/>
<rect x="679.32" y="779.0" width="6.2" height="15.1"/>
<rect x="687.65" y="779.0" width="6.2" height="17.6"/>
<rect x="695.98" y="779.0" width="6.2" height="22.6"/>
<rect x="704.32" y="779.0" width="6.2" height="28.9"/>
<rect x="712.65" y="779.0" width="6.2" height="30.2"/>
<rect x="720.98" y="779.0" width="6.2" height="32.7"/>
<rect x="729.32" y="779.0" width="6.2" height="32.7"/>
<rect x="737.65" y="779.0" width="6.2" height="32.7"/>
<rect x="745.98" y="779.0" width="6.2" height="30.2"/>
<rect x="754.32" y="779.0" width="6.2" height="30.0"/>
<rect x="762.65" y="779.0" width="6.2" height="31.3"/>
<rect x="770.98" y="779.0" width="6.2" height="33.8"/>
<rect x="779.32" y="779.0" width="6.2" height="38.8"/>
<rect x="787.65" y="779.0" width="6.2" height="29.0"/>
<rect x="795.98" y="779.0" width="6.2" height="31.3"/>
<rect x="804.32" y="779.0" width="6.2" height="36.3"/>
<rect x="812.65" y="779.0" width="6.2" height="41.3"/>
<rect x="820.98" y="779.0" width="6.2" height="47.6"/>
<rect x="829.32" y="779.0" width="6.2" height="57.6"/>
<rect x="837.65" y="779.0" width="6.2" height="55.9"/>
<rect x="845.98" y="779.0" width="6.2" height="60.1"/>
<rect x="854.32" y="779.0" width="6.2" height="63.9"/>
<rect x="862.65" y="779.0" width="6.2" height="70.1"/>
<rect x="870.98" y="779.0" width="6.2" height="78.4"/>
<rect x="879.32" y="779.0" width="6.2" height="83.4"/>
<rect x="887.65" y="779.0" width="6.2" height="83.9"/>
<rect x="895.98" y="779.0" width="6.2" height="85.2"/>
<rect x="904.32" y="779.0" width="6.2" height="86.4"/>
<rect x="912.65" y="779.0" width="6.2" height="88.9"/>
<rect x="920.98" y="779.0" width="6.2" height="87.7"/>
<rect x="929.32" y="779.0" width="6.2" height="83.9"/>
<rect x="937.65" y="779.0" width="6.2" height="75.2"/>
<rect x="945.98" y="779.0" width="6.2" height="68.9"/>
<rect x="954.32" y="779.0" width="6.2" height="60.9"/>
<rect x="962.65" y="779.0" width="6.2" height="53.9"/>
<rect x="970.98" y="779.0" width="6.2" height="47.6"/>
<rect x="979.32" y="779.0" width="6.2" height="43.8"/>
<rect x="987.65" y="779.0" width="6.2" height="38.8"/>
<rect x="995.98" y="779.0" width="6.2" height="35.1"/>
<rect x="1004.32" y="779.0" width="6.2" height="31.3"/>
<rect x="1012.65" y="779.0" width="6.2" height="28.3"/>
<rect x="1020.98" y="779.0" width="6.2" height="20.8"/>
<rect x="1029.32" y="779.0" width="6.2" height="15.8"/>
<rect x="1037.65" y="779.0" width="6.2" height="5.0"/>
<rect x="1045.98" y="779.0" width="6.2" height="3.7"/>
<rect x="1054.32" y="777.5" width="6.2" height="1.5"/>
<rect x="1062.65" y="777.5" width="6.2" height="1.5"/>
<rect x="1070.98" y="777.5" width="6.2" height="1.5"/>
<rect x="1079.32" y="777.5" width="6.2" height="1.5"/>
<rect x="1087.65" y="777.5" width="6.2" height="1.5"/>
<rect x="1095.98" y="777.5" width="6.2" height="1.5"/>
<rect x="1104.32" y="777.5" width="6.2" height="1.5"/>
<rect x="1112.65" y="777.5" width="6.2" height="1.5"/>
<rect x="1120.98" y="778.0" width="6.2" height="1.0"/>
<rect x="1129.32" y="778.0" width="6.2" height="1.0"/>
<rect x="1137.65" y="778.0" width="6.2" height="1.0"/>
<rect x="1145.98" y="778.0" width="6.2" height="1.0"/>
<rect x="1154.32" y="778.0" width="6.2" height="1.0"/>
<rect x="1162.65" y="778.0" width="6.2" height="1.0"/>
<rect x="1170.98" y="778.0" width="6.2" height="1.0"/>
<rect x="1179.32" y="778.0" width="6.2" height="1.0"/>
<rect x="1187.65" y="762.5" width="6.2" height="16.5"/>
</g>
<polyline fill="none" stroke="#2088ea" stroke-width="4.6" stroke-linejoin="round" stroke-linecap="butt" points="6.6,766.5 18.2,765.6 24.8,761.5 38.0,759.5 49.5,764.0 61.0,764.0 69.3,759.9 82.5,756.6 92.4,753.8 123.0,753.8 130.4,764.8 140.3,776.4 153.5,782.1 171.6,783.0 183.2,774.7 194.7,766.5 209.9,766.0 216.2,762.3 223.4,761.8 227.0,769.9 229.7,775.3 240.5,785.2 245.0,797.8 247.7,803.7 266.7,814.0 281.0,814.5 284.7,813.2 289.2,809.5 292.8,815.0 298.2,829.4 312.7,835.8 325.3,837.3 362.9,837.3 367.9,827.8 372.9,812.7 382.9,797.7 392.9,781.4 403.0,771.4 425.5,758.1 433.0,756.4 445.0,749.8 465.1,740.2 482.7,735.7 495.2,732.7 515.2,738.2 525.3,744.0 537.8,752.8 547.8,759.0 557.8,762.3 570.4,771.6 580.4,777.8 590.4,782.8 605.5,782.8 610.5,784.8 620.5,784.1 628.0,781.1 633.0,782.8 640.6,789.1 650.6,793.4 660.6,796.1 668.1,799.9 680.7,801.6 695.7,802.4 705.7,805.4 720.0,806.0 770.1,806.0 781.4,811.0 790.2,800.3 797.7,799.5 807.7,804.8 820.3,809.0 830.3,814.6 840.3,812.3 855.3,814.8 870.4,820.8 890.4,822.3 903.0,824.8 923.0,824.8 930.5,819.0 938.0,805.3 945.6,792.8 955.6,781.5 968.1,772.2 980.7,767.7 995.7,760.2 1008.2,756.4 1015.0,755.0 1027.5,748.8 1042.5,742.5 1060.0,738.2 1077.5,738.8 1085.0,741.8 1097.5,741.2 1102.5,739.2 1137.5,738.8 1145.0,736.8 1157.5,735.8 1180.0,735.0 1185.0,733.0 1191.2,733.8"/>
<polyline fill="none" stroke="#f00808" stroke-width="4.6" stroke-linejoin="round" stroke-linecap="butt" points="7.4,781.0 15.8,781.0 24.1,781.5 32.4,782.8 40.8,784.0 49.1,784.3 57.4,784.3 65.8,784.3 74.1,784.3 82.4,784.2 90.8,783.8 99.1,782.8 107.4,781.6 115.8,780.8 124.1,780.2 132.4,779.9 140.8,780.8 149.1,782.4 157.4,783.6 165.8,784.4 174.1,784.7 182.4,784.8 190.8,784.9 199.1,785.0 207.4,785.0 215.8,785.1 224.1,784.5 232.4,783.3 240.8,783.7 249.1,785.5 257.4,787.6 265.8,790.5 274.1,794.3 282.4,798.6 290.8,803.6 299.1,811.8 307.4,824.2 315.8,838.5 324.1,853.8 332.4,869.7 340.8,885.2 349.1,899.7 357.4,913.0 365.8,924.3 374.1,931.4 382.4,932.1 390.8,927.4 399.1,918.7 407.4,906.9 415.8,892.5 424.1,876.8 432.4,860.4 440.8,843.1 449.1,825.6 457.4,808.0 465.8,790.6 474.1,773.3 482.4,756.0 490.8,739.1 499.1,722.4 507.4,706.6 515.8,693.7 524.1,683.9 532.4,678.2 540.8,676.8 549.1,678.5 557.4,683.2 565.8,689.2 574.1,695.9 582.4,704.2 590.8,712.9 599.1,721.2 607.4,729.0 615.8,736.2 624.1,742.0 632.4,747.2 640.8,751.7 649.1,756.5 657.4,760.8 665.8,763.2 674.1,766.9 682.4,771.2 690.8,775.9 699.1,782.0 707.4,788.2 715.8,793.7 724.1,797.6 732.4,800.7 740.8,803.0 749.1,805.0 757.4,806.7 765.8,808.1 774.1,809.3 782.4,810.1 790.8,810.5 799.1,810.9 807.4,812.2 815.8,814.1 824.1,816.1 832.4,818.0 840.7,820.5 849.1,823.9 857.4,827.7 865.7,831.9 874.1,836.5 882.4,841.4 890.7,845.8 899.1,849.6 907.4,852.7 915.7,855.8 924.1,859.0 932.4,860.3 940.7,860.4 949.1,860.2 957.4,858.8 965.7,855.3 974.1,851.2 982.4,846.5 990.7,840.6 999.1,834.3 1007.4,828.4 1015.7,822.6 1024.1,817.2 1032.4,812.0 1040.7,806.4 1049.1,800.9 1057.4,796.3 1065.7,792.2 1074.1,788.3 1082.4,784.9 1090.7,782.6 1099.1,780.7 1107.4,778.9 1115.7,777.4 1124.1,776.7 1132.4,776.5 1140.7,776.2 1149.1,775.5 1157.4,774.5 1165.7,773.8 1174.1,773.3 1182.4,772.7 1190.7,772.0"/>
<g fill="none" stroke="#3f5455" stroke-width="2.2">
<path d="M5.5 642.5 L5.5 5.3 L1244.5 5.3 L1244.5 963.1"/>
<path d="M4.5 642.5 L1246 642.5"/>
<path d="M4.5 646.7 L1245 646.7"/>
<path d="M5.5 646.7 L5.5 963.1 L1247.5 963.1"/>
</g>
<g stroke="#3f5455" stroke-width="2">
<path d="M1245 16.9 h4.8"/>
<path d="M1245 85.8 h4.8"/>
<path d="M1245 154.6 h4.8"/>
<path d="M1245 223.5 h4.8"/>
<path d="M1245 292.4 h4.8"/>
<path d="M1245 361.2 h4.8"/>
<path d="M1245 430.1 h4.8"/>
<path d="M1245 499.0 h4.8"/>
<path d="M1245 567.9 h4.8"/>
<path d="M1245 636.7 h4.8"/>
<path d="M1245 651 h3"/><path d="M1245 779 h4.8"/>
<path d="M7.2 963 v7.2"/>
<path d="M140.5 963 v7.2"/>
<path d="M273.9 963 v7.2"/>
<path d="M407.2 963 v7.2"/>
<path d="M540.5 963 v7.2"/>
<path d="M673.9 963 v7.2"/>
<path d="M807.2 963 v7.2"/>
<path d="M940.5 963 v7.2"/>
<path d="M1073.8 963 v7.2"/>
</g>
<text x="1257" y="22.1" textLength="68" lengthAdjust="spacingAndGlyphs">1.12890</text>
<text x="1257" y="91.0" textLength="68" lengthAdjust="spacingAndGlyphs">1.12510</text>
<text x="1257" y="159.8" textLength="68" lengthAdjust="spacingAndGlyphs">1.12130</text>
<text x="1257" y="228.7" textLength="68" lengthAdjust="spacingAndGlyphs">1.11750</text>
<text x="1257" y="297.6" textLength="68" lengthAdjust="spacingAndGlyphs">1.11370</text>
<text x="1257" y="366.4" textLength="68" lengthAdjust="spacingAndGlyphs">1.10990</text>
<text x="1257" y="435.3" textLength="68" lengthAdjust="spacingAndGlyphs">1.10610</text>
<text x="1257" y="504.2" textLength="68" lengthAdjust="spacingAndGlyphs">1.10230</text>
<text x="1257" y="573.1" textLength="68" lengthAdjust="spacingAndGlyphs">1.09850</text>
<text x="1257" y="640.5" textLength="68" lengthAdjust="spacingAndGlyphs">1.09470</text>
<rect x="1247.7" y="320.7" width="86" height="22.4" fill="#325052"/>
<text x="1257" y="339.4" textLength="68" lengthAdjust="spacingAndGlyphs" style="fill:#e8eded;stroke:#e8eded;stroke-width:0.25px">1.11137</text>
<text x="1252.5" y="668.5" textLength="82" lengthAdjust="spacingAndGlyphs">0.003954</text>
<text x="1252.5" y="785">0.00</text>
<text x="1252.3" y="955.9">-0.005541</text>
<path d="M11.7 18 L27 18 L19.35 27.2 Z" fill="#2f4a50"/>
<text x="38.2" y="28.8" textLength="111.5" lengthAdjust="spacingAndGlyphs">EURUSD,H1</text>
<text x="163.3" y="28.8" textLength="66.5" lengthAdjust="spacingAndGlyphs">1.11008</text>
<text x="238.8" y="28.8" textLength="66.5" lengthAdjust="spacingAndGlyphs">1.11155</text>
<text x="313.6" y="28.8" textLength="66.5" lengthAdjust="spacingAndGlyphs">1.11008</text>
<text x="388.3" y="28.8" textLength="66.5" lengthAdjust="spacingAndGlyphs">1.11137</text>
<text x="15.5" y="672.3" textLength="214.0" lengthAdjust="spacingAndGlyphs">MACD-RSI(12,26,9),(14)</text>
<text x="239.8" y="672.3" textLength="74.5" lengthAdjust="spacingAndGlyphs">0.000492</text>
<text x="324.6" y="672.3" textLength="74.5" lengthAdjust="spacingAndGlyphs">0.000242</text>
<text x="409.2" y="672.3" textLength="76.5" lengthAdjust="spacingAndGlyphs">0.001465</text>
<text x="5.0" y="989.3">25 Jun 2015</text>
<text x="138.3" y="989.3">26 Jun 03:00</text>
<text x="271.7" y="989.3">26 Jun 19:00</text>
<text x="405.0" y="989.3">29 Jun 12:00</text>
<text x="538.3" y="989.3">30 Jun 04:00</text>
<text x="671.7" y="989.3">30 Jun 20:00</text>
<text x="805.0" y="989.3">1 Jul 12:00</text>
<text x="938.3" y="989.3">2 Jul 04:00</text>
<text x="1071.6" y="989.3">2 Jul 20:00</text>
</g>
</svg></body></html>
